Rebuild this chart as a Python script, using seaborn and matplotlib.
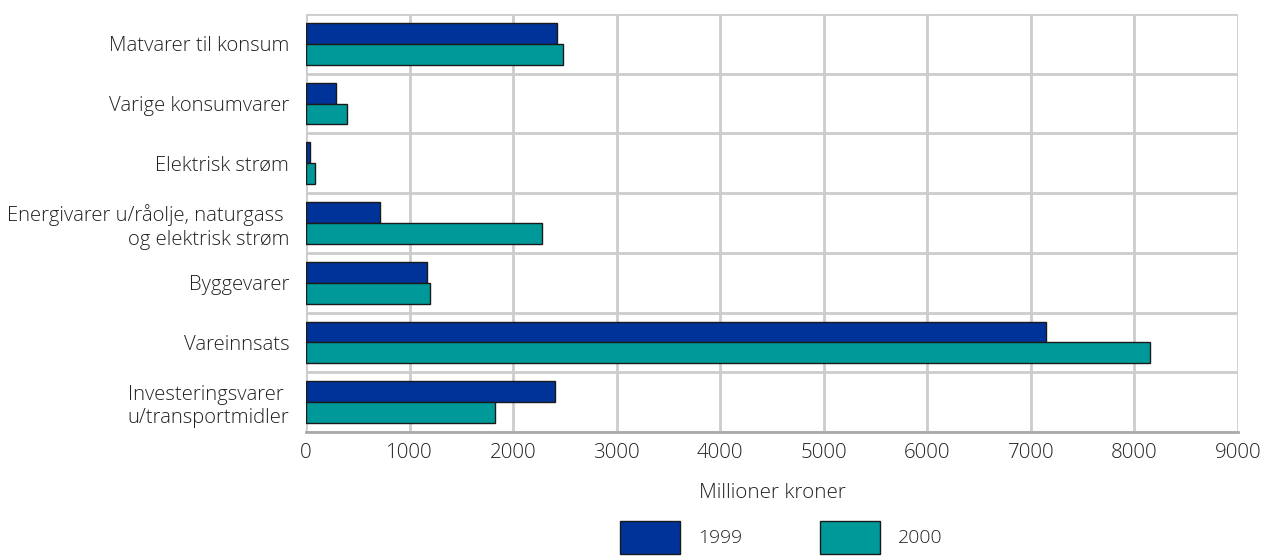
import numpy as np
import pandas as pd
import matplotlib
matplotlib.use("Agg")
import matplotlib.pyplot as plt
import seaborn as sns

# data (millioner kroner)
categories = [
    "Matvarer til konsum",
    "Varige konsumvarer",
    "Elektrisk strøm",
    "Energivarer u/råolje, naturgass \nog elektrisk strøm",
    "Byggevarer",
    "Vareinnsats",
    "Investeringsvarer \nu/transportmidler",
]
years = ["1999", "2000"]
values_1999 = [2425, 290, 40, 715, 1170, 7145, 2400]
values_2000 = [2480, 395, 85, 2280, 1200, 8150, 1825]
x_ticks = [0, 1000, 2000, 3000, 4000, 5000, 6000, 7000, 8000, 9000]
colors = {"1999": "#003399", "2000": "#009999"}

df = pd.DataFrame({
    "kategori": categories * 2,
    "aar": [years[0]] * len(categories) + [years[1]] * len(categories),
    "verdi": values_1999 + values_2000,
})

sns.set_style("white")
plt.rcParams["font.family"] = ["Open Sans", "DejaVu Sans"]
plt.rcParams["font.weight"] = "light"
plt.rcParams["axes.labelweight"] = "light"
text_col = "#222222"

fig = plt.figure(figsize=(12.64, 5.56), dpi=100)
ax = fig.add_axes([306 / 1264, 1 - 432 / 556, (1238 - 306) / 1264, (432 - 14) / 556])

sns.barplot(data=df, y="kategori", x="verdi", hue="aar", order=categories,
            hue_order=years, palette=colors, saturation=1, orient="h", width=0.7,
            edgecolor="#1a1a1a", linewidth=1.0, legend=False, ax=ax, zorder=3)

ax.set_xlim(0, 9000)
ax.set_xticks(x_ticks)
ax.set_xticklabels([str(t) for t in x_ticks], fontsize=14.8, color=text_col)
ax.set_ylim(len(categories) - 0.5, -0.5)
ax.set_yticks(range(len(categories)))
ax.set_yticklabels(categories, fontsize=14.6, color=text_col, ha="right", linespacing=1.25)
ax.set_yticks(np.arange(-0.5, len(categories), 1.0), minor=True)

ax.tick_params(axis="both", which="both", length=0)
ax.tick_params(axis="y", pad=12)
ax.tick_params(axis="x", pad=8)

ax.grid(axis="x", which="major", color="#cccccc", linewidth=2, zorder=0)
ax.grid(axis="y", which="minor", color="#cccccc", linewidth=2, zorder=0)
ax.grid(axis="y", which="major", visible=False)
ax.set_axisbelow(True)

for side in ["top", "right", "left"]:
    ax.spines[side].set_visible(False)
ax.spines["bottom"].set_color("#aaaaaa")
ax.spines["bottom"].set_linewidth(2)

ax.set_ylabel("")
ax.set_xlabel("Millioner kroner", fontsize=14.8, color=text_col, labelpad=14,
              fontweight="light")

handles = [plt.Rectangle((0, 0), 1, 1, facecolor=colors[y], edgecolor="#1a1a1a", linewidth=1)
           for y in years]
fig.legend(handles, years, loc="upper center", bbox_to_anchor=(0.618, 1 - 503 / 556),
           ncol=2, frameon=False, fontsize=14, handlelength=3.1, handleheight=2.3,
           handletextpad=0.9, columnspacing=4.0, labelcolor=text_col)

fig.savefig("out.png", dpi=100)
